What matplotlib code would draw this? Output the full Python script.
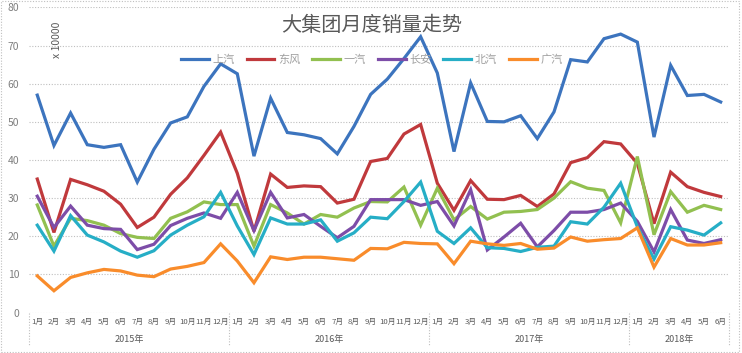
import matplotlib
matplotlib.use("Agg")
import matplotlib.pyplot as plt
import numpy as np
from matplotlib.patches import Rectangle

plt.rcParams['font.family'] = ['Noto Sans CJK SC', 'DejaVu Sans']

years = ['2015年', '2016年', '2017年', '2018年']
year_months = [12, 12, 12, 6]
month_labels = [f'{m}月' for n in year_months for m in range(1, n + 1)]

series_names = ['上汽', '东风', '一汽', '长安', '北汽', '广汽']
colors = ['#3C74BE', '#C0393C', '#92C050', '#7D4DA8', '#26AEC6', '#F98C2B']

saic = [57, 43.8, 52.3, 44, 43.3, 44, 34.2, 42.8, 49.7, 51.3, 59.3, 65.2,
        62.6, 41, 56.2, 47.2, 46.6, 45.6, 41.6, 48.8, 57.2, 61.2, 66.6, 72.3,
        62.8, 42.2, 60.2, 50.1, 50, 51.6, 45.6, 52.6, 66.3, 65.7, 71.8, 73,
        70.9, 46, 64.8, 56.9, 57.2, 55.2]
dongfeng = [35, 21, 34.9, 33.5, 31.8, 28.4, 22.3, 25, 31, 35.3, 41.2, 47.3,
            36.5, 21.3, 36.3, 32.8, 33.2, 33, 28.7, 29.7, 39.6, 40.4, 46.8, 49.3,
            33.9, 26.8, 34.6, 29.7, 29.6, 30.7, 27.8, 31.1, 39.3, 40.6, 44.8, 44.2,
            39.1, 23.3, 36.8, 33, 31.5, 30.4]
faw = [28.2, 17.4, 24.7, 24.1, 22.9, 20.7, 19.7, 19.4, 24.7, 26.4, 29, 28.3,
       28.3, 17.4, 28.3, 26.1, 23.2, 25.7, 25, 27.4, 29.1, 29, 32.9, 22.9,
       32.6, 24.3, 27.8, 24.5, 26.3, 26.5, 27, 30, 34.3, 32.6, 32, 23.5,
       40.9, 20.4, 31.7, 26.3, 28.1, 27]
changan = [30.5, 22.3, 27.9, 22.9, 22, 21.8, 16.5, 17.9, 22.8, 24.7, 26.1, 24.7,
           31.5, 21.5, 31.5, 24.8, 25.7, 22.6, 19.6, 22.6, 29.6, 29.6, 29.6, 28.1,
           29.1, 22.7, 32.2, 16.4, 19.8, 23.4, 17.2, 21.5, 26.3, 26.3, 27, 28.7,
           23.9, 15.9, 27, 19, 18.1, 19.1]
baic = [22.9, 16.1, 25.4, 20.3, 18.5, 16.1, 14.5, 16.2, 20.3, 22.9, 25.1, 31.5,
        22.7, 15.2, 24.8, 23.2, 23.2, 24.3, 18.7, 20.9, 25, 24.6, 29.1, 34.2,
        21.3, 18.1, 22.2, 17, 16.8, 16, 17.1, 17.4, 23.8, 23.2, 27.6, 33.9,
        22.5, 14, 22.5, 21.6, 20.3, 23.5]
gac = [9.6, 5.7, 9.2, 10.4, 11.3, 10.9, 9.8, 9.4, 11.4, 12.1, 13.1, 18,
       13.5, 7.8, 14.6, 13.9, 14.5, 14.5, 14.1, 13.7, 16.8, 16.7, 18.4, 18.1,
       18, 12.8, 18.7, 18, 17.6, 18.1, 16.6, 16.9, 19.8, 18.7, 19.1, 19.4,
       22.2, 11.9, 19.4, 17.7, 17.7, 18.3]
data = [saic, dongfeng, faw, changan, baic, gac]

fig = plt.figure(figsize=(7.42, 3.53), dpi=100)
ax = fig.add_axes([0.039, 0.1147, 0.9435, 0.8643])

x = np.arange(len(month_labels))
for vals, name, c in zip(data, series_names, colors):
    ax.plot(x, vals, color=c, lw=2.3, label=name, solid_joinstyle='miter')

ax.set_xlim(-0.5, len(month_labels) - 0.5)
ax.set_ylim(0, 80)
ax.set_yticks(np.arange(0, 81, 10))
ax.yaxis.grid(True, color='#bfbfbf', linestyle=(0, (1, 1.5)), lw=0.8)
ax.set_axisbelow(True)
for s in ax.spines.values():
    s.set_visible(False)
ax.tick_params(axis='y', length=0, pad=7, labelsize=7.5, labelcolor='#7f7f7f')
ax.set_xticks(x)
ax.set_xticklabels(month_labels)
ax.tick_params(axis='x', length=0, pad=4, labelsize=5.6, labelcolor='#595959')

# year groups under the month labels
tr = ax.get_xaxis_transform()
start = 0
bounds = [-0.5]
for yname, n in zip(years, year_months):
    ax.text(start + (n - 1) / 2, -0.09, yname, transform=tr, ha='center', va='center',
            fontsize=6.5, color='#595959')
    start += n
    bounds.append(start - 0.5)
for b in bounds:
    ax.plot([b, b], [0, -0.106], transform=tr, color='#bfbfbf', lw=0.8,
            linestyle=(0, (1, 1.5)), clip_on=False)

fig.text(0.501, 0.929, '大集团月度销量走势', ha='center', va='center', fontsize=14.5, color='#595959')
fig.text(0.077, 0.887, 'x 10000', rotation=90, ha='center', va='center', fontsize=7.5, color='#595959')

leg = ax.legend(loc='center', bbox_to_anchor=(0.501, 0.83), bbox_transform=fig.transFigure,
                ncol=6, frameon=False, fontsize=8, handlelength=2.5, handletextpad=0.3,
                columnspacing=1.1)
for t in leg.get_texts():
    t.set_color('#a0a0a0')

fig.patches.append(Rectangle((0.002, 0.004), 0.994, 0.992, transform=fig.transFigure,
                             fill=False, edgecolor='#bfbfbf', lw=0.8, linestyle=(0, (1, 1.5))))

fig.savefig('out.png', dpi=100)
